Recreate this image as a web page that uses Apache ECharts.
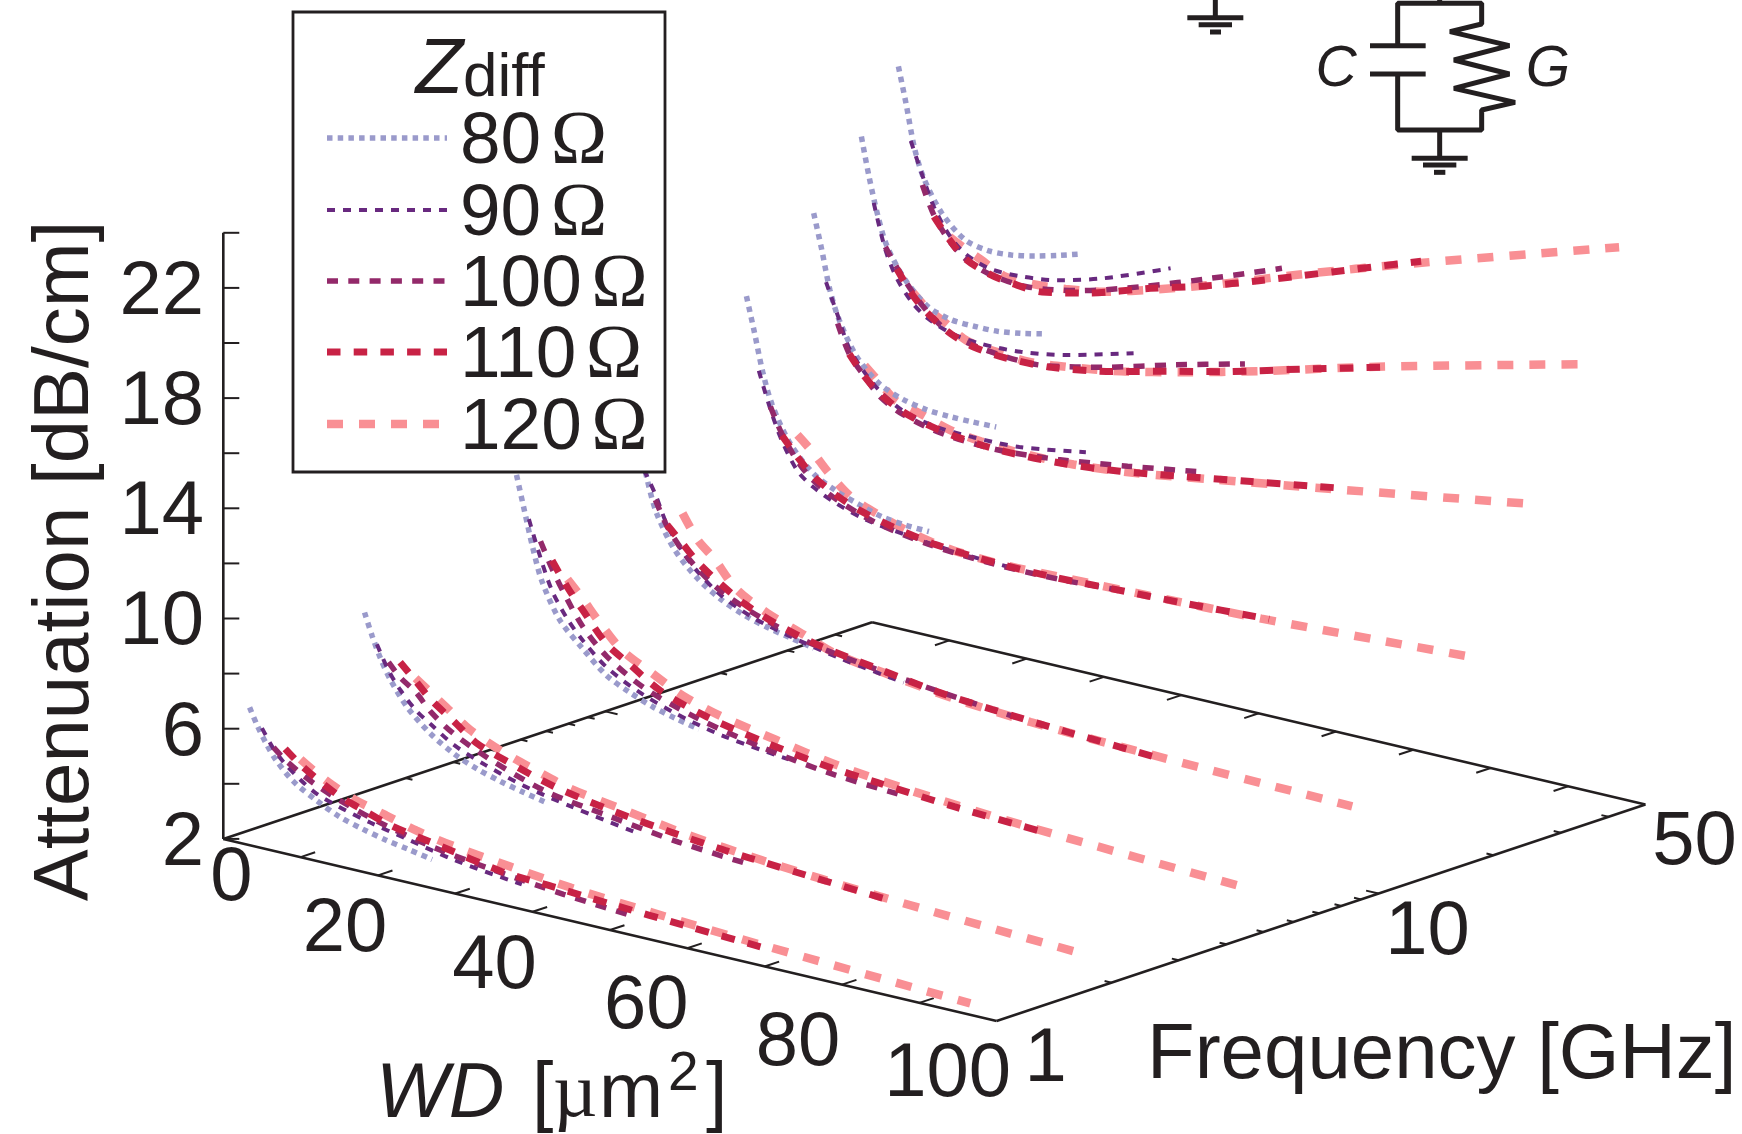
<!DOCTYPE html>
<html><head><meta charset="utf-8">
<style>html,body{margin:0;padding:0;background:#fff}#c{width:1742px;height:1134px}</style>
<script src="https://cdn.jsdelivr.net/npm/echarts@6/dist/echarts.min.js"></script>
</head><body><div id="c"></div>
<script>
// ---- data ----
const frequencies = [1, 2, 5, 10, 20, 30, 40, 50];            // GHz, one curve group per value
const attenTicks = [2, 6, 10, 14, 18, 22];
const wdTicks = [0, 20, 40, 60, 80, 100];
const freqTicks = [1, 10, 50];
const zNames = ['80 Ω', '90 Ω', '100 Ω', '110 Ω', '120 Ω'];

const wd80  = [3.4, 4.4, 5.5, 6.7, 9, 12, 15, 18, 21, 24, 27];
const wd90  = [5, 6.5, 8, 10, 12, 15, 19, 24, 30, 38.6];
const wd100 = [6.5, 8, 10, 12, 15, 20, 27, 35, 44, 53];
const wd110 = [8, 10, 12, 15, 18, 22, 28, 36, 43, 50, 60, 71];
const wd120 = [10, 12, 14, 17, 21, 25, 30, 37, 45, 55, 70, 96.6];

const atten80 = [
  [7.0, 6.4, 5.85, 5.35, 4.7, 4.2, 3.8, 3.55, 3.35, 3.2, 3.04],
  [9.05, 8.25, 7.5, 6.85, 5.95, 5.2, 4.68, 4.33, 4.08, 3.88, 3.7],
  [12.2, 11.0, 9.7, 8.55, 7.3, 6.45, 5.7, 5.28, 4.95, 4.72, 4.53],
  [13.6, 12.1, 10.7, 9.6, 8.45, 7.6, 7.05, 6.68, 6.43, 6.25, 6.08],
  [15.9, 14.7, 13.3, 12.2, 10.95, 10.05, 9.6, 9.3, 9.05, 8.95, 8.92],
  [18.1, 16.9, 15.45, 14.44, 13.25, 12.45, 12.1, 11.93, 11.88, 11.88, 11.9],
  [20.3, 18.9, 17.6, 16.55, 15.5, 14.7, 14.42, 14.38, 14.4, 14.52, 14.7],
  [22.4, 21.1, 19.55, 18.55, 17.45, 16.68, 16.48, 16.52, 16.68, 16.9, 17.15]
];
const atten90 = [
  [6.35, 5.7, 5.25, 4.8, 4.45, 4.15, 3.85, 3.55, 3.2, 2.9],
  [8.0, 7.15, 6.55, 5.95, 5.55, 5.0, 4.55, 4.12, 3.78, 3.38],
  [10.7, 9.4, 8.3, 7.4, 6.75, 6.0, 5.4, 4.9, 4.5, 4.2],
  [11.1, 10.3, 9.3, 8.45, 7.85, 7.2, 6.68, 6.3, 5.95, 5.6],
  [13.3, 12.0, 10.95, 10.0, 9.55, 9.15, 8.8, 8.6, 8.42, 8.3],
  [15.7, 14.6, 13.5, 12.75, 12.2, 11.68, 11.4, 11.33, 11.37, 11.75],
  [18.0, 16.4, 15.45, 14.7, 14.27, 13.93, 13.8, 13.85, 14.13, 14.76],
  [19.8, 18.65, 17.6, 16.7, 16.18, 15.85, 15.82, 16.0, 16.47, 17.4]
];
const atten100 = [
  [5.75, 5.4, 5.05, 4.75, 4.4, 3.95, 3.5, 3.18, 2.9, 2.7],
  [7.45, 7.0, 6.6, 6.0, 5.4, 4.75, 4.1, 3.75, 3.4, 3.2],
  [10.0, 9.1, 8.1, 7.25, 6.4, 5.55, 4.9, 4.42, 4.05, 3.88],
  [10.1, 9.25, 8.5, 7.95, 7.35, 6.75, 6.2, 5.85, 5.55, 5.3],
  [12.1, 11.2, 10.35, 9.8, 9.3, 8.8, 8.45, 8.3, 8.3, 8.45],
  [14.3, 13.3, 12.6, 12.0, 11.55, 11.2, 11.08, 11.25, 11.6, 12.0],
  [16.5, 15.85, 15.1, 14.5, 13.9, 13.6, 13.55, 14.02, 14.7, 15.33],
  [18.3, 17.3, 16.5, 16.0, 15.65, 15.5, 15.82, 16.5, 17.4, 18.35]
];
const atten110 = [
  [5.8, 5.35, 5.0, 4.55, 4.25, 3.9, 3.6, 3.2, 3.08, 2.95, 2.8, 2.66],
  [7.55, 7.0, 6.45, 5.85, 5.25, 4.85, 4.35, 3.95, 3.7, 3.5, 3.3, 3.1],
  [9.4, 8.55, 7.85, 6.85, 6.3, 5.6, 5.05, 4.6, 4.3, 4.12, 3.9, 3.75],
  [9.3, 8.75, 8.2, 7.6, 7.1, 6.65, 6.2, 5.85, 5.55, 5.38, 5.2, 5.05],
  [11.15, 10.5, 9.95, 9.45, 9.1, 8.8, 8.5, 8.35, 8.33, 8.4, 8.5, 8.65],
  [13.3, 12.6, 12.1, 11.65, 11.4, 11.2, 11.08, 11.15, 11.35, 11.65, 12.1, 12.6],
  [15.8, 15.0, 14.45, 13.9, 13.62, 13.5, 13.55, 13.93, 14.4, 14.85, 15.6, 16.4],
  [17.25, 16.55, 16.0, 15.65, 15.5, 15.44, 15.8, 16.5, 17.05, 17.7, 18.7, 19.8]
];
const atten120 = [
  [5.55, 5.2, 4.9, 4.55, 4.25, 3.95, 3.7, 3.45, 3.2, 3.0, 2.75, 2.42],
  [7.1, 6.7, 6.3, 5.7, 5.2, 4.83, 4.42, 4.1, 3.75, 3.45, 3.15, 2.8],
  [8.85, 8.25, 7.6, 6.75, 6.15, 5.6, 5.18, 4.8, 4.4, 4.1, 3.8, 3.47],
  [9.85, 9.0, 8.5, 7.55, 6.95, 6.55, 6.05, 5.75, 5.45, 5.25, 5.1, 4.94],
  [11.3, 10.8, 10.2, 9.5, 9.05, 8.7, 8.45, 8.35, 8.4, 8.47, 8.6, 9.0],
  [13.0, 12.5, 12.0, 11.75, 11.4, 11.25, 11.16, 11.2, 11.42, 11.85, 12.5, 13.7],
  [15.1, 14.6, 14.3, 13.8, 13.64, 13.56, 13.7, 14.0, 14.5, 15.2, 16.35, 18.2],
  [16.65, 16.35, 16.1, 15.7, 15.65, 15.75, 15.98, 16.53, 17.25, 18.25, 19.65, 22.0]
];

// ---- oblique projection of the 3-D box onto the page scale ----
const INK = '#231f20', FONT = '"Liberation Sans", Arial, sans-serif', SERIF = '"Liberation Serif", serif';
const origin = [223.3, 838.9], wdVec = [7.733, 1.822], fVec = [648.8, -216.7], aVec = -27.55;
const fT = f => Math.log10(f) / Math.log10(50);
function proj(w, f, a) {
  const t = fT(f);
  return [origin[0] + wdVec[0] * w + fVec[0] * t, origin[1] + wdVec[1] * w + fVec[1] * t + aVec * (a - 2)];
}

const styles = {
  '80 Ω':  {color: '#9a9acb', width: 5.5, type: [5.5, 5.2]},
  '90 Ω':  {color: '#68297f', width: 4,   type: [8, 8]},
  '100 Ω': {color: '#93296a', width: 5.5, type: [11, 10.3]},
  '110 Ω': {color: '#c82245', width: 7,   type: [13.5, 13.2]},
  '120 Ω': {color: '#f98f94', width: 8.5, type: [16, 16]}
};
const table = {'80 Ω': [wd80, atten80], '90 Ω': [wd90, atten90], '100 Ω': [wd100, atten100], '110 Ω': [wd110, atten110], '120 Ω': [wd120, atten120]};

const series = [];
[0, 1, 2, 3, 4].forEach(k => {
  const name = zNames[k], [wd, att] = table[name], s = styles[name];
  frequencies.forEach((f, g) => {
    series.push({
      type: 'line', name, silent: true, animation: false, showSymbol: false, symbol: 'none', clip: false,
      smooth: 0.3, z: 2 + (k === 4 ? 0 : 0.2 + k * 0.1),
      lineStyle: {color: s.color, width: s.width, type: s.type, cap: 'butt', opacity: 1},
      itemStyle: {color: s.color},
      data: wd.map((w, i) => proj(w, f, att[g][i]))
    });
  });
});

// box edges
const edges = [
  [proj(0, 1, 2), proj(100, 1, 2)], [proj(100, 1, 2), proj(100, 50, 2)],
  [proj(100, 50, 2), proj(0, 50, 2)], [proj(0, 50, 2), proj(0, 1, 2)],
  [proj(0, 1, 2), proj(0, 1, 24)]
];
const ticks = [];
for (let a = 2; a <= 24; a += 2) { const p = proj(0, 1, a); ticks.push([p[0], p[1], p[0] + 16, p[1]]); }
for (let w = 10; w <= 90; w += 10) {
  const p = proj(w, 1, 2), q = proj(w, 50, 2);
  ticks.push([p[0], p[1], p[0] + 14.5, p[1] - 4.8]);
  ticks.push([q[0], q[1], q[0] - 14.5, q[1] + 4.8]);
}
[2, 3, 4, 5, 6, 7, 8, 9, 10, 20, 30, 40].forEach(f => {
  const len = f === 10 ? 1.6 : 0.9;
  const p = proj(100, f, 2), q = proj(0, f, 2);
  ticks.push([p[0], p[1], p[0] - wdVec[0] * len, p[1] - wdVec[1] * len]);
  ticks.push([q[0], q[1], q[0] + wdVec[0] * len, q[1] + wdVec[1] * len]);
});
series.push({
  type: 'custom', silent: true, animation: false, clip: false, z: 1.5,
  data: ticks,
  renderItem(_, api) {
    const a = api.coord([api.value(0), api.value(1)]), b = api.coord([api.value(2), api.value(3)]);
    return {type: 'line', shape: {x1: a[0], y1: a[1], x2: b[0], y2: b[1]}, style: {stroke: INK, lineWidth: 2}};
  }
});
edges.forEach(e => series.push({
  type: 'line', silent: true, animation: false, showSymbol: false, symbol: 'none', clip: false, z: 1.6,
  lineStyle: {color: INK, width: 2.6}, data: e
}));

// texts
const txt = (text, x, y, size, extra) => ({
  type: 'text', z: 5, silent: true, x, y,
  style: Object.assign({text, fill: INK, fontFamily: FONT, fontSize: size, align: 'center', verticalAlign: 'middle'}, extra || {})
});
const graphic = [];
graphic.push({type: 'rect', z: 3, silent: true, shape: {x: 293, y: 12, width: 372, height: 460}, style: {fill: '#fff', stroke: INK, lineWidth: 2.8}});
graphic.push(txt('{z|Z}{d|diff}', 480, 71, 70, {rich: {
  z: {fontSize: 78, fontStyle: 'italic', fontFamily: FONT, fill: INK},
  d: {fontSize: 62, fontFamily: FONT, fill: INK, verticalAlign: 'bottom'}}}));

// legend rows
const legendY = [138, 210, 281, 352, 424];
zNames.forEach((n, i) => {
  const s = styles[n], [num, om] = n.split(' ');
  graphic.push({type: 'line', z: 5, silent: true, shape: {x1: 327, y1: legendY[i], x2: 447, y2: legendY[i]},
    style: {stroke: s.color, lineWidth: s.width, lineDash: s.type, lineCap: 'butt'}});
  graphic.push(txt('{n|' + num + '}{s| }{o|' + om + '}', 460, legendY[i] + 5, 72, {align: 'left', rich: {
    n: {fontSize: 73, fontFamily: FONT, fill: INK},
    s: {fontSize: 34, fontFamily: FONT, fill: INK},
    o: {fontSize: 76, fontFamily: SERIF, fill: INK}}}));
});

attenTicks.forEach(a => { const p = proj(0, 1, a); graphic.push(txt(String(a), 204, p[1] + 5, 76, {align: 'right'})); });
const wdDx = [[8, 40], [-33, 55], [-38, 55], [-41, 59], [-44, 59], [-49, 54]];
wdTicks.forEach((w, i) => { const p = proj(w, 1, 2); graphic.push(txt(String(w), p[0] + wdDx[i][0], p[1] + wdDx[i][1], 76)); });
freqTicks.forEach(f => { const p = proj(100, f, 2); graphic.push(txt(String(f), p[0] + 49, p[1] + 39, 76)); });
graphic.push(txt('Attenuation [dB/cm]', 66, 561, 78, {}));
graphic[graphic.length - 1].rotation = Math.PI / 2;
graphic.push(txt('Frequency [GHz]', 1147, 1056, 78, {align: 'left'}));
graphic.push(txt('WD', 376, 1096, 77, {align: 'left', fontStyle: 'italic'}));
graphic.push(txt('[', 532, 1096, 77, {align: 'left'}));
graphic.push(txt('µ', 553, 1096, 77, {align: 'left', fontFamily: SERIF}));
graphic.push(txt('m', 599, 1096, 77, {align: 'left'}));
graphic.push(txt('2', 668, 1075, 55, {align: 'left'}));
graphic.push(txt(']', 706, 1096, 77, {align: 'left'}));
graphic.push(txt('C', 1336, 70, 57, {fontStyle: 'italic'}));
graphic.push(txt('G', 1548, 70, 57, {fontStyle: 'italic'}));

// circuit sketch
const wire = (pts, w) => ({type: 'polyline', z: 5, silent: true, shape: {points: pts}, style: {stroke: INK, fill: null, lineWidth: w || 5, lineJoin: 'bevel'}});
const Z = (zx, zy) => [1150 + zx / 3, zy / 3];
graphic.push(wire([Z(869, 0), Z(869, 10)]));
graphic.push(wire([Z(743, 137), Z(743, 10), Z(995, 10), Z(995, 72), Z(900, 95), Z(1078, 137), Z(912, 180), Z(1078, 222), Z(912, 265), Z(1095, 307), Z(995, 330), Z(995, 390), Z(743, 390), Z(743, 222)]));
graphic.push(wire([Z(660, 137), Z(827, 137)]));
graphic.push(wire([Z(660, 222), Z(827, 222)]));
graphic.push(wire([Z(869, 390), Z(869, 475)]));
graphic.push(wire([Z(785, 475), Z(953, 475)]));
graphic.push(wire([Z(819, 495), Z(919, 495)]));
graphic.push(wire([Z(852, 517), Z(886, 517)]));
graphic.push(wire([Z(196, 0), Z(196, 53)]));
graphic.push(wire([Z(112, 53), Z(280, 53)]));
graphic.push(wire([Z(146, 74), Z(246, 74)]));
graphic.push(wire([Z(180, 96), Z(213, 96)]));

const chart = echarts.init(document.getElementById('c'), null, {renderer: 'canvas'});
chart.setOption({
  animation: false,
  backgroundColor: '#fff',
  grid: {left: 0, right: 0, top: 0, bottom: 0},
  xAxis: {type: 'value', min: 0, max: 1742, show: false},
  yAxis: {type: 'value', min: 0, max: 1134, inverse: true, show: false},
  graphic: {elements: graphic},
  series
});
</script></body></html>
